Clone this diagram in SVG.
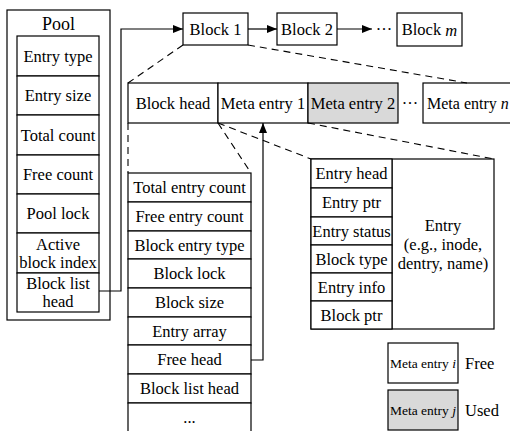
<svg xmlns="http://www.w3.org/2000/svg" width="510" height="431" viewBox="0 0 510 431" font-family="'Liberation Serif', 'Times New Roman', serif">
<style>
.b{fill:#fff;stroke:#000;stroke-width:1.2}
.g{fill:#d9d9d9;stroke:#000;stroke-width:1.2}
.ln{fill:none;stroke:#000;stroke-width:1.2}
.d{fill:none;stroke:#000;stroke-width:1.1;stroke-dasharray:7,5}
text{font-family:"Liberation Serif","Times New Roman",serif;font-size:16.5px;fill:#000;text-anchor:middle;dominant-baseline:central}
.s{font-size:13.5px}
.l{text-anchor:start}
</style>
<defs>
<marker id="ah" markerWidth="10" markerHeight="8" refX="10" refY="4" orient="auto" markerUnits="userSpaceOnUse">
<path d="M0,0L10,4L0,8Z" fill="#000"/>
</marker>
</defs>
<rect x="0" y="0" width="510" height="431" fill="#fff"/>

<g id="pool">
<rect class="b" x="7" y="10" width="103" height="310"/>
<text x="58.5" y="24" style="font-size:18px">Pool</text>
<rect class="b" x="17" y="36" width="82" height="40"/><text x="58" y="56">Entry type</text>
<rect class="b" x="17" y="76" width="82" height="39"/><text x="58" y="95.5">Entry size</text>
<rect class="b" x="17" y="115" width="82" height="40"/><text x="58" y="135">Total count</text>
<rect class="b" x="17" y="155" width="82" height="39"/><text x="58" y="174.5">Free count</text>
<rect class="b" x="17" y="194" width="82" height="39"/><text x="58" y="213.5">Pool lock</text>
<rect class="b" x="17" y="233" width="82" height="40"/><text x="58" y="244">Active</text><text x="58" y="262">block index</text>
<rect class="b" x="17" y="273" width="82" height="39"/><text x="58" y="283">Block list</text><text x="58" y="301">head</text>
</g>

<g id="block1"><rect class="b" x="183" y="13" width="65" height="32"/><text x="215.5" y="29">Block 1</text></g>
<g id="block2"><rect class="b" x="277" y="13" width="60" height="32"/><text x="307" y="29">Block 2</text></g>
<g id="blockm"><rect class="b" x="397" y="13" width="65" height="33"/><text x="429.5" y="29.5">Block <tspan font-style="italic">m</tspan></text></g>
<text x="384" y="29">···</text>

<g id="metarow">
<rect class="b" x="128" y="83" width="90" height="40"/><text x="173" y="103">Block head</text>
<rect class="b" x="218" y="83" width="90" height="40"/><text x="263" y="103">Meta entry 1</text>
<rect class="g" x="308" y="83" width="90" height="40"/><text x="353" y="103">Meta entry 2</text>
<text x="410" y="103">···</text>
<rect class="b" x="423" y="83" width="100" height="40"/><text class="l" x="427" y="103" style="font-size:16px">Meta entry <tspan font-style="italic">n</tspan></text>
</g>

<g id="blockhead">
<rect class="b" x="128" y="173" width="123" height="29"/><text x="189.5" y="187.5">Total entry count</text>
<rect class="b" x="128" y="202" width="123" height="29"/><text x="189.5" y="216.5">Free entry count</text>
<rect class="b" x="128" y="231" width="123" height="28"/><text x="189.5" y="245">Block entry type</text>
<rect class="b" x="128" y="259" width="123" height="29"/><text x="189.5" y="273.5">Block lock</text>
<rect class="b" x="128" y="288" width="123" height="29"/><text x="189.5" y="302.5">Block size</text>
<rect class="b" x="128" y="317" width="123" height="28"/><text x="189.5" y="331">Entry array</text>
<rect class="b" x="128" y="345" width="123" height="29"/><text x="189.5" y="359.5">Free head</text>
<rect class="b" x="128" y="374" width="123" height="29"/><text x="189.5" y="388.5">Block list head</text>
<rect class="b" x="128" y="403" width="123" height="40"/><text x="189.5" y="417">...</text>
</g>

<g id="metaentry">
<rect class="b" x="311" y="159" width="183" height="170"/>
<line class="ln" x1="392" y1="159" x2="392" y2="329"/>
<rect class="b" x="311" y="159" width="81" height="29"/><text x="351.5" y="173.5">Entry head</text>
<rect class="b" x="311" y="188" width="81" height="29"/><text x="351.5" y="202.5">Entry ptr</text>
<rect class="b" x="311" y="217" width="81" height="28"/><text x="351.5" y="231">Entry status</text>
<rect class="b" x="311" y="245" width="81" height="28"/><text x="351.5" y="259">Block type</text>
<rect class="b" x="311" y="273" width="81" height="28"/><text x="351.5" y="287">Entry info</text>
<rect class="b" x="311" y="301" width="81" height="28"/><text x="351.5" y="315">Block ptr</text>
<text x="443" y="225">Entry</text>
<text x="443" y="244">(e.g., inode,</text>
<text x="443" y="263">dentry, name)</text>
</g>

<g id="legend">
<rect class="b" x="388" y="343" width="70" height="40"/><text class="s" x="423" y="363">Meta entry <tspan font-style="italic">i</tspan></text>
<text class="l" x="465" y="363">Free</text>
<rect class="g" x="388" y="390" width="70" height="40"/><text class="s" x="423" y="410">Meta entry <tspan font-style="italic">j</tspan></text>
<text class="l" x="465" y="410">Used</text>
</g>

<g id="connectors">
<polyline class="ln" points="99,291 121,291 121,29 183,29" marker-end="url(#ah)"/>
<line class="ln" x1="248" y1="29" x2="277" y2="29" marker-end="url(#ah)"/>
<line class="ln" x1="337" y1="29" x2="372" y2="29" marker-end="url(#ah)"/>
<polyline class="ln" points="251,360 263,360 263,123" marker-end="url(#ah)"/>
<line class="d" x1="183" y1="45" x2="128" y2="83"/>
<line class="d" x1="248" y1="45" x2="467" y2="83"/>
<line class="d" x1="128" y1="123" x2="128" y2="173"/>
<line class="d" x1="218" y1="123" x2="251" y2="173"/>
<line class="d" x1="218" y1="123" x2="311" y2="159"/>
<line class="d" x1="308" y1="123" x2="494" y2="159"/>
</g>
</svg>
